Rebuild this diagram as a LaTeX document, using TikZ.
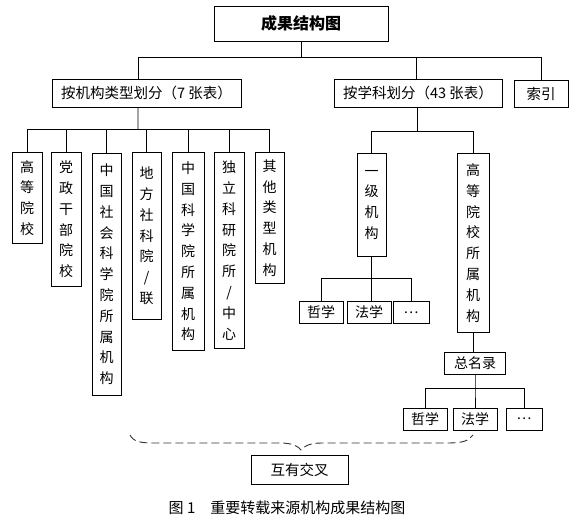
\documentclass[tikz,border=0pt]{standalone}
\usepackage{fontspec}
\newfontfamily\cjk{Noto Sans CJK SC}
\usetikzlibrary{calc}
\begin{document}
\begin{tikzpicture}[x=1bp,y=-1bp,
  box/.style={draw, line width=0.8bp, inner sep=0pt, font=\cjk\fontsize{14.5bp}{18bp}\selectfont},
  colbox/.style={draw, line width=0.8bp, inner sep=0pt, align=center, anchor=north, font=\cjk\fontsize{14bp}{20.8bp}\selectfont},
  smallbox/.style={draw, line width=0.8bp, inner sep=0pt, font=\cjk\fontsize{14bp}{16bp}\selectfont, minimum height=21.5bp},
  link/.style={line width=0.8bp},
  bracedash/.style={line width=0.9bp, draw=black!80, dash pattern=on 8bp off 4bp}]
\useasboundingbox (0,0) rectangle (576,532);
% level 0-1
\node[box, minimum width=174bp, minimum height=35bp, font=\cjk\bfseries\fontsize{16bp}{18bp}\selectfont] (title) at (301,23.5) {成果结构图};
\node[box, minimum width=189bp, minimum height=28bp] (A) at (146.5,93) {按机构类型划分（7 张表）};
\node[box, minimum width=168bp, minimum height=28bp] (B) at (418,93) {按学科划分（43 张表）};
\node[box, minimum width=54bp, minimum height=27bp] (C) at (541,93.5) {索引};
% left columns
\node[colbox, minimum width=30bp, minimum height=91bp] (L1) at (27,152) {高\\等\\院\\校};
\node[colbox, minimum width=30bp, minimum height=134bp] (L2) at (66,152) {党\\政\\干\\部\\院\\校};
\node[colbox, minimum width=29bp, minimum height=242bp] (L3) at (106.5,153) {中\\国\\社\\会\\科\\学\\院\\所\\属\\机\\构};
\node[colbox, minimum width=29bp, minimum height=167bp] (L4) at (146.5,152) {地\\方\\社\\科\\院\\/\\联};
\node[colbox, minimum width=32bp, minimum height=198bp] (L5) at (188,152) {中\\国\\科\\学\\院\\所\\属\\机\\构};
\node[colbox, minimum width=30bp, minimum height=196bp] (L6) at (229,152) {独\\立\\科\\研\\院\\所\\/\\中\\心};
\node[colbox, minimum width=29bp, minimum height=131bp] (L7) at (269.5,152) {其\\他\\类\\型\\机\\构};
% right columns
\node[colbox, minimum width=29bp, minimum height=103bp] (R1) at (371.5,153) {一\\级\\机\\构};
\node[colbox, minimum width=32bp, minimum height=179bp] (R2) at (473,153) {高\\等\\院\\校\\所\\属\\机\\构};
% subject boxes under R1
\node[smallbox, minimum width=44bp] (P1) at (321,312.5) {哲学};
\node[smallbox, minimum width=44bp] (P2) at (369,312.5) {法学};
\node[smallbox, minimum width=36bp] (P3) at (411,312.5) {…};
% under R2
\node[smallbox, minimum width=61bp, minimum height=22bp] (S) at (475,363) {总名录};
\node[smallbox, minimum width=44bp, minimum height=22bp] (Q1) at (425,419) {哲学};
\node[smallbox, minimum width=44bp, minimum height=22bp] (Q2) at (475,419) {法学};
\node[smallbox, minimum width=36bp, minimum height=22bp] (Q3) at (524,419) {…};
% cross box and caption
\node[box, minimum width=97bp, minimum height=29bp] (X) at (299.5,469.5) {互有交叉};
\node[font=\cjk\fontsize{15bp}{18bp}\selectfont, inner sep=0pt] (cap) at (287,508) {图 1\hspace{1em}重要转载来源机构成果结构图};
% top connectors
\coordinate (busT) at (301,57);
\coordinate (An) at ([xshift=-8.5bp]A.north);
\coordinate (Bn) at ([xshift=-2bp]B.north);
\draw[link] (title.south) -- (busT);
\draw[link] (An) |- (busT -| C.north) -- (C.north);
\draw[link] (Bn) -- (Bn |- busT);
% left bus
\coordinate (As) at ([xshift=-8.5bp]A.south);
\coordinate (lb) at (138,129);
\draw[link] (As) -- (lb);
\draw[link] (L1.north) |- (lb -| L7.north) -- (L7.north);
\foreach \n in {L2,L3,L4,L5,L6} \draw[link] (\n.north) -- (\n.north |- lb);
% right bus
\coordinate (Bs) at ([xshift=-1bp]B.south);
\coordinate (rb) at (417,131);
\draw[link] (Bs) -- (rb);
\draw[link] (R1.north) |- (rb -| R2.north) -- (R2.north);
% R1 subtree
\coordinate (pb) at (371.5,278);
\draw[link] (R1.south) -- (pb) -- (pb |- P2.north);
\draw[link] (P1.north) |- (pb -| P3.north) -- (P3.north);
% R2 subtree
\draw[link] (R2.south) -- (R2.south |- S.north);
\coordinate (qb) at (475,388);
\draw[link] (S.south) -- (qb) -- (Q2.north);
\draw[link] (Q1.north) |- (qb -| Q3.north) -- (Q3.north);
% dashed brace
\coordinate (brL) at (130,435);
\coordinate (brT) at (301,450);
\coordinate (brR) at (473,435);
\draw[bracedash] (brL) .. controls (134,442) and (140,443) .. (156,443) -- (280,443)
  .. controls (292,443) and (298,446) .. (brT)
  .. controls (304,446) and (310,443) .. (322,443) -- (448,443)
  .. controls (462,443) and (469,441) .. (brR);
\end{tikzpicture}
\end{document}
